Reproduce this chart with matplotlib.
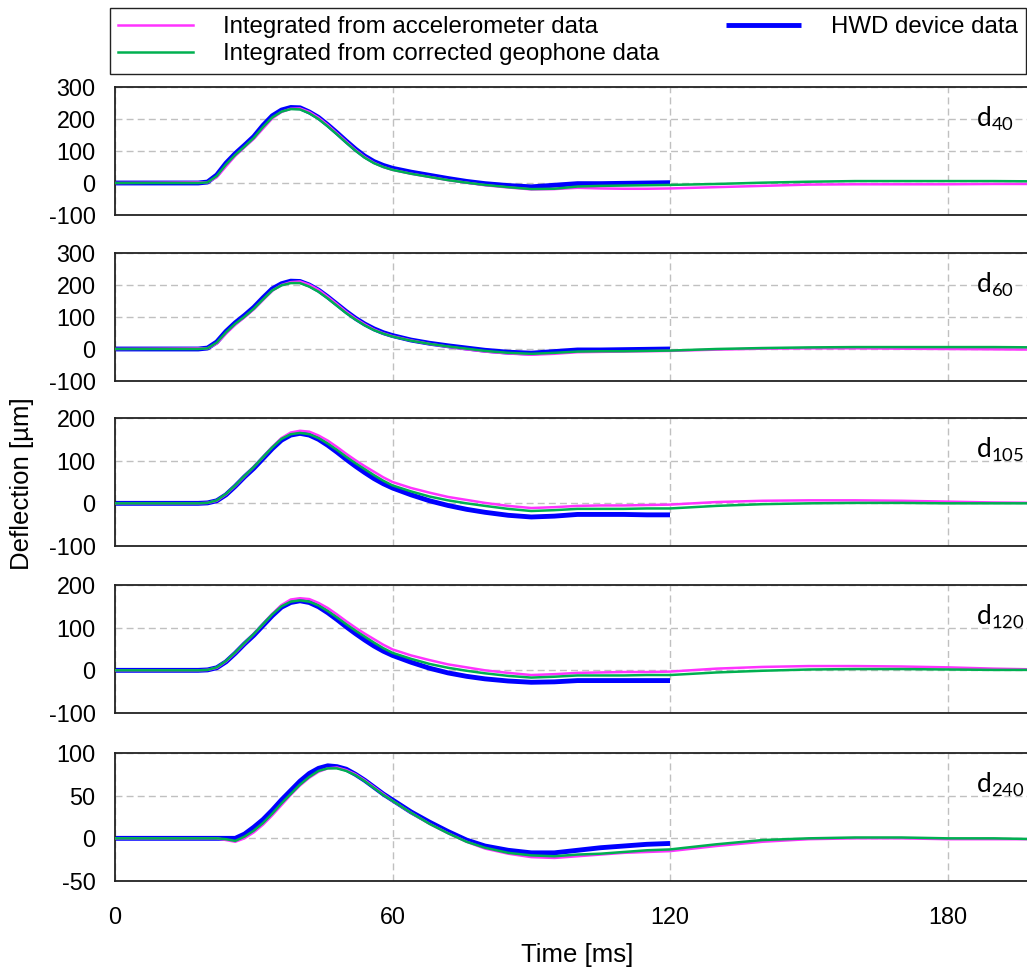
import matplotlib
matplotlib.use("Agg")
import matplotlib.pyplot as plt

plt.rcParams['font.family'] = ['Liberation Sans', 'DejaVu Sans']
plt.rcParams['axes.unicode_minus'] = False

# time axis [ms]; HWD device data only goes to 120 ms
t = [0, 10, 18, 20, 22, 24, 26, 28, 30, 32, 34, 36, 38, 40, 42, 44, 46, 48, 50, 52,
     54, 56, 58, 60, 64, 68, 72, 76, 80, 85, 90, 95, 100, 105, 110, 115, 120,
     130, 140, 150, 160, 170, 180, 190, 200]
t_hwd = t[:37]

# d40
d40_hwd = [0, 0, 0, 3, 25, 62, 92, 118, 145, 180, 210, 228, 236, 235, 222, 205, 182, 157, 131, 106,
           84, 67, 55, 46, 34, 24, 14, 5, -2, -8, -12, -7, -2, -2, -1, 0, 1]
d40_geo = [0, 0, 0, 2, 22, 58, 88, 114, 141, 175, 205, 223, 231, 230, 218, 200, 177, 152, 126, 101,
           79, 62, 50, 41, 29, 19, 9, 1, -6, -13, -19, -18, -11, -9, -8, -7, -6,
           -3, 1, 4, 6, 6, 6, 6, 5]
d40_acc = [0, 1, 2, 2, 18, 52, 85, 112, 138, 170, 202, 222, 232, 233, 222, 204, 181, 155, 129, 103,
           81, 63, 50, 41, 29, 19, 9, 1, -7, -14, -20, -19, -15, -17, -18, -18, -17,
           -13, -9, -5, -4, -4, -4, -3, -3]

# d60
d60_hwd = [0, 0, 0, 3, 22, 55, 82, 105, 130, 160, 188, 204, 212, 211, 200, 184, 163, 140, 117, 96,
           78, 63, 51, 42, 28, 18, 10, 3, -4, -10, -13, -8, -3, -3, -2, -1, 0]
d60_geo = [0, 0, 0, 2, 20, 52, 79, 101, 126, 155, 183, 199, 206, 206, 195, 179, 158, 135, 112, 92,
           74, 59, 48, 39, 26, 16, 8, 1, -6, -12, -15, -12, -8, -7, -7, -6, -5,
           0, 3, 5, 6, 6, 6, 6, 5]
d60_acc = [0, 1, 2, 2, 17, 48, 76, 99, 124, 153, 182, 200, 209, 211, 201, 185, 163, 140, 116, 95,
           77, 61, 49, 40, 27, 16, 7, -1, -8, -14, -18, -15, -10, -9, -8, -7, -6,
           -2, 1, 2, 2, 1, 0, -1, -2]

# d105
d105_hwd = [0, 0, 0, 1, 6, 20, 40, 62, 82, 105, 128, 148, 160, 164, 160, 150, 136, 120, 103, 87,
            72, 58, 46, 36, 20, 6, -5, -14, -21, -28, -32, -30, -26, -26, -26, -27, -27]
d105_geo = [0, 0, 0, 1, 7, 22, 42, 64, 85, 108, 131, 151, 162, 165, 162, 153, 140, 125, 109, 94,
            80, 66, 53, 42, 28, 16, 7, 0, -6, -13, -18, -16, -13, -13, -13, -12, -12,
            -6, -2, 0, 1, 1, 0, 0, 0]
d105_acc = [0, 0, 0, 1, 6, 21, 41, 63, 85, 108, 132, 153, 166, 170, 168, 159, 147, 132, 116, 101,
            87, 74, 61, 50, 36, 25, 15, 8, 1, -6, -11, -9, -6, -5, -5, -4, -3,
            3, 6, 7, 7, 6, 4, 2, 1]

# d120
d120_hwd = [0, 0, 0, 1, 6, 20, 40, 62, 82, 105, 128, 148, 159, 163, 159, 149, 135, 119, 102, 86,
            71, 57, 45, 35, 19, 5, -6, -14, -20, -25, -28, -27, -24, -24, -24, -24, -24]
d120_geo = [0, 0, 0, 1, 7, 22, 42, 64, 85, 108, 131, 150, 161, 164, 161, 152, 139, 124, 108, 93,
            79, 65, 52, 41, 27, 15, 6, -1, -7, -13, -17, -15, -12, -12, -12, -11, -11,
            -5, -1, 2, 3, 3, 2, 1, 1]
d120_acc = [0, 0, 0, 1, 6, 21, 41, 63, 85, 108, 132, 153, 166, 169, 167, 158, 146, 131, 115, 100,
            86, 73, 60, 49, 35, 24, 14, 7, 0, -6, -11, -9, -6, -5, -4, -4, -3,
            4, 8, 10, 10, 9, 7, 4, 2]

# d240
d240_hwd = [0, 0, 0, 0, 0, 0, 0, 5, 13, 22, 33, 45, 56, 67, 76, 82, 85, 84, 81, 75,
            68, 60, 52, 45, 31, 19, 8, -2, -9, -14, -17, -17, -14, -11, -9, -7, -6]
d240_geo = [0, 0, 0, 0, 0, -1, -3, 2, 9, 18, 29, 41, 52, 63, 72, 79, 82, 82, 79, 74,
            67, 59, 51, 44, 30, 17, 6, -4, -11, -17, -20, -21, -19, -18, -16, -14, -13,
            -7, -2, 0, 1, 1, 0, 0, -1]
d240_acc = [0, 0, 0, 0, 0, -2, -4, 0, 7, 16, 27, 39, 51, 62, 71, 78, 82, 83, 80, 75,
            68, 60, 52, 44, 30, 17, 6, -4, -12, -18, -22, -23, -21, -19, -17, -16, -15,
            -9, -4, -1, 0, 0, -1, -1, -1]

names = ['40', '60', '105', '120', '240']
hwd = [d40_hwd, d60_hwd, d105_hwd, d120_hwd, d240_hwd]
geo = [d40_geo, d60_geo, d105_geo, d120_geo, d240_geo]
acc = [d40_acc, d60_acc, d105_acc, d120_acc, d240_acc]
yticks = [[-100, 0, 100, 200, 300], [-100, 0, 100, 200, 300],
          [-100, 0, 100, 200], [-100, 0, 100, 200], [-50, 0, 50, 100]]
xticks = [0, 60, 120, 180]

W, H = 1027, 968
fig = plt.figure(figsize=(W / 100, H / 100), dpi=100)

tops = [87, 253, 418, 585, 753]
ph = 128
axes = []
for i in range(5):
    ax = fig.add_axes([115 / W, 1 - (tops[i] + ph) / H, 925 / W, ph / H])
    l_hwd, = ax.plot(t_hwd, hwd[i], color='#0000FF', lw=3.5, solid_capstyle='butt',
                     label='HWD device data', zorder=2)
    l_acc, = ax.plot(t, acc[i], color='#FF33FF', lw=1.8, label='Integrated from accelerometer data', zorder=3)
    l_geo, = ax.plot(t, geo[i], color='#00B050', lw=1.8, label='Integrated from corrected geophone data', zorder=4)
    ax.set_xlim(0, 200)
    ax.set_ylim(yticks[i][0], yticks[i][-1])
    ax.set_yticks(yticks[i])
    ax.set_xticks(xticks)
    ax.grid(True, color='#c0c0c0', ls=(0, (5, 3)), lw=1)
    ax.tick_params(length=0, labelsize=16.8, pad=14)
    for s in ax.spines.values():
        s.set_color('#222222')
        s.set_linewidth(1.3)
    if i < 4:
        ax.tick_params(labelbottom=False)
    ax.text(0.931, 0.69, r'$\mathregular{d_{%s}}$' % names[i], transform=ax.transAxes,
            ha='left', va='baseline', fontsize=19, family=['Lato', 'DejaVu Sans'])
    axes.append(ax)

axes[-1].tick_params(axis='x', pad=18)
axes[-1].set_xlabel('Time [ms]', fontsize=18.5, labelpad=10)
fig.text(22 / W, 484 / H, 'Deflection [µm]', rotation=90, ha='center', va='center', fontsize=18.5)

leg = fig.legend([l_acc, l_geo, l_hwd],
                 [l_acc.get_label(), l_geo.get_label(), l_hwd.get_label()],
                 loc='upper left', bbox_to_anchor=(110 / W, 1 - 8 / H), ncol=2,
                 fontsize=17.3, frameon=True, fancybox=False, framealpha=1,
                 edgecolor='#222222', handlelength=3.1, handletextpad=1.25,
                 columnspacing=2.8, labelspacing=0.2, borderpad=0.35, borderaxespad=0)
leg.get_frame().set_linewidth(1.0)

fig.savefig('out.png', dpi=100)
